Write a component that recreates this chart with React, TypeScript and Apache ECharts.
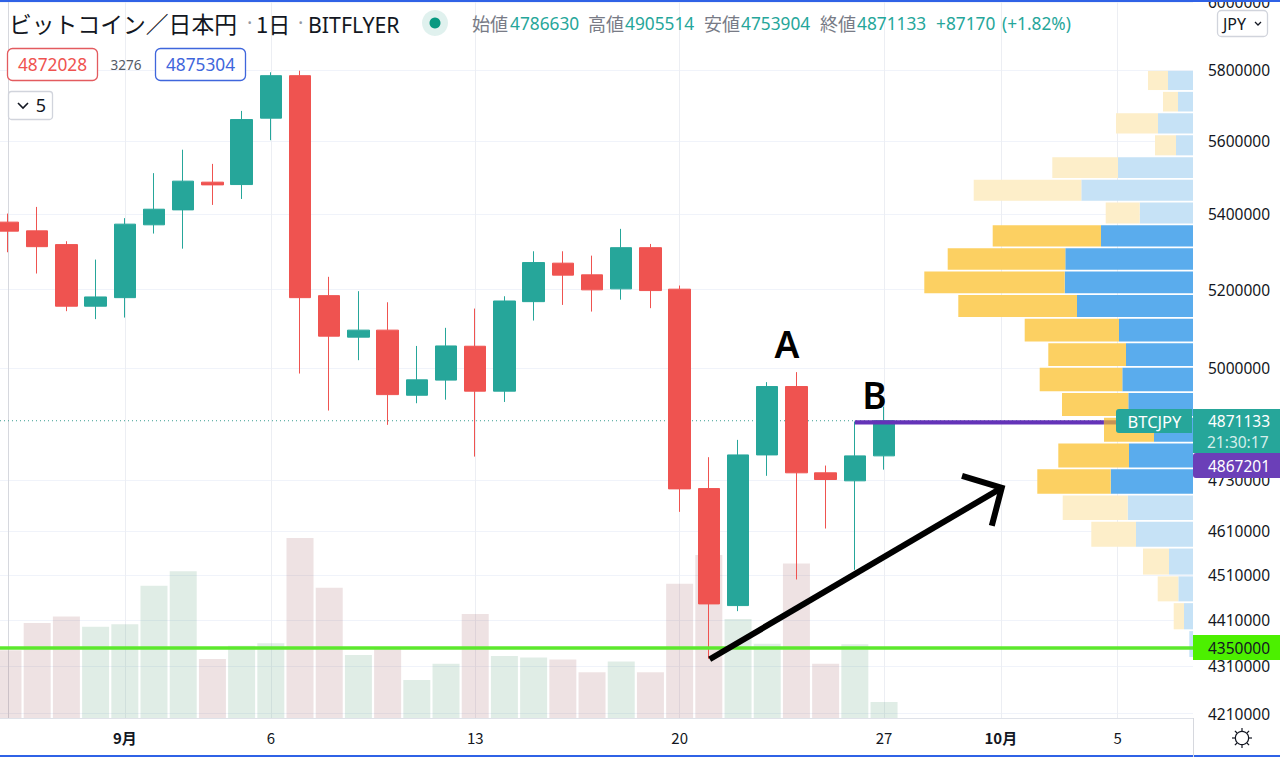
import React, { useEffect, useRef } from "react";
import * as echarts from "echarts";

// ---- data ----
const dates = ["8/28","8/29","8/30","8/31","9/1","9/2","9/3","9/4","9/5","9/6","9/7","9/8","9/9","9/10","9/11","9/12","9/13","9/14","9/15","9/16","9/17","9/18","9/19","9/20","9/21","9/22","9/23","9/24","9/25","9/26","9/27"];
const opens = [5377600,5354300,5317700,5157100,5179100,5370400,5410500,5485700,5479200,5663400,5784500,5184300,5078200,5096000,4933400,4970700,5055300,4943400,5168800,5268800,5238300,5201800,5309600,5201000,4709300,4442700,4788900,4954800,4746400,4727500,4786630];
const closes = [5353500,5312300,5157100,5180900,5372200,5412300,5488500,5478300,5659500,5784500,5179100,5080700,5096000,4934900,4971400,5056000,4943400,5170500,5270400,5237500,5199200,5309600,5197400,4708600,4446400,4788900,4954800,4746400,4730600,4786600,4871133];
const lows = [5297500,5241700,5144300,5124000,5128000,5347100,5307000,5423900,5440000,5601600,4987000,4895900,5020300,4861200,4913800,4922500,4784900,4916900,5120400,5160400,5143300,5173900,5152000,4655000,4326400,4430400,4739300,4500800,4616500,4522600,4753904];
const highs = [5400600,5418500,5326700,5278200,5388300,5510400,5575100,5535900,5683900,5794300,5798900,5233100,5195800,5167200,5056000,5101800,5151000,5182700,5300100,5300100,5288600,5359600,5319500,5210400,4783500,4824900,4965700,4990500,4763600,4869200,4905514];
const volumes = [13900,19500,20800,18700,19200,27100,30100,12100,14800,15300,36900,26700,12900,14300,7800,11100,21300,12700,12400,12000,9400,11600,9400,27500,33400,20300,15200,31700,11100,15100,3276];

const profileEdges = [5800900,5740700,5679700,5617900,5557000,5494800,5432700,5371400,5310200,5249500,5188000,5127300,5064900,5003700,4940900,4880600,4818400,4757000,4695100,4634300,4572800,4509800,4450100,4388500,4328500];
const profileBuy = [2500,1500,3500,1700,7500,11170,5330,9200,12770,12830,11600,7400,6700,7070,6470,3900,6400,8230,6530,5700,2400,1470,900,370];
const profileSell = [2000,1500,4200,2100,6570,10760,3400,10830,11760,14040,11870,9430,7770,8260,6630,5000,7070,7340,6500,4470,2600,2060,1030,0];
const profileFaded = [1,1,1,1,1,1,1,0,0,0,0,0,0,0,0,0,0,0,1,1,1,1,1,1];

const yTicks = [6000000,5800000,5600000,5400000,5200000,5000000,4730000,4610000,4510000,4410000,4310000,4210000];
const xTickIndex = [4,9,16,23,30,34,38];
const xTickLabels = ["9月","6","13","20","27","10月","5"];
const xTickBold = [1,0,0,0,0,1,0];

const lastPrice = 4871133;
const purplePrice = 4867201;
const greenPrice = 4350000;
const arrowShaft = [[24.03,4325500],[34.03,4711000]];
const arrowHead = [[32.67,4739300],[34.03,4711000],[33.69,4622800]];

// ---- styling ----
const UP = "#26a69a";
const DOWN = "#ef5350";
const GRID = "#f0f3fa";
const TEXT = "#131722";
const SANS = "'Noto Sans', sans-serif";
const JP = "'Noto Sans CJK JP', 'Noto Sans', sans-serif";

const txt = (text: string, x: number, y: number, fill: string, size: number, opt: any = {}) => ({
  type: "text",
  z: 50,
  silent: true,
  style: {
    text, x, y, fill,
    font: `${opt.weight || "normal"} ${size}px ${opt.family || SANS}`,
    textAlign: opt.align || "left",
    textVerticalAlign: "middle",
  },
});
const box = (x: number, y: number, width: number, height: number, fill: string, stroke: string | null, r: any = 0) => ({
  type: "rect",
  z: 40,
  silent: true,
  shape: { x, y, width, height, r },
  style: { fill, stroke: stroke || undefined, lineWidth: stroke ? 1.3 : 0 },
});
const seg = (x1: number, y1: number, x2: number, y2: number, stroke: string, lineWidth = 1) => ({
  type: "line",
  z: 45,
  silent: true,
  shape: { x1, y1, x2, y2 },
  style: { stroke, lineWidth },
});

const sunRays = [[0,-1],[0,1],[-1,0],[1,0],[-0.71,-0.71],[0.71,-0.71],[-0.71,0.71],[0.71,0.71]];

const graphics: any[] = [
  // frame
  box(0, 0, 1280, 2, "#2f62e6", null),
  box(0, 755, 1280, 2, "#2f62e6", null),
  // header
  txt("ビットコイン／日本円", 9, 23, TEXT, 22.8, { family: JP }),
  txt("·", 247, 22, "#9598a1", 20),
  txt("1日", 256, 23, TEXT, 22, { family: JP }),
  txt("·", 298, 22, "#9598a1", 20),
  txt("BITFLYER", 308, 24, TEXT, 21.3),
  { type: "circle", z: 40, silent: true, shape: { cx: 435, cy: 23, r: 13 }, style: { fill: "#e0f1ee" } },
  { type: "circle", z: 41, silent: true, shape: { cx: 435, cy: 23, r: 5.5 }, style: { fill: "#089981" } },
  txt("始値", 472, 23, "#787b86", 18, { family: JP }),
  txt("4786630", 510, 23, UP, 17.3),
  txt("高値", 588, 23, "#787b86", 18, { family: JP }),
  txt("4905514", 625, 23, UP, 17.3),
  txt("安値", 704, 23, "#787b86", 18, { family: JP }),
  txt("4753904", 741, 23, UP, 17.3),
  txt("終値", 820, 23, "#787b86", 18, { family: JP }),
  txt("4871133", 857, 23, UP, 17.3),
  txt("+87170", 936, 23, UP, 17.3),
  txt("(+1.82%)", 1002, 23, UP, 17.3),
  // quote boxes
  box(7.5, 48.5, 90, 32, "#ffffff", "#e35b5f", 5),
  txt("4872028", 52.5, 64.5, DOWN, 17.3, { align: "center" }),
  txt("3276", 126, 64.5, "#555a66", 13.5, { align: "center" }),
  box(155.5, 48.5, 90, 32, "#ffffff", "#3f66dc", 5),
  txt("4875304", 200.5, 64.5, "#3f66dc", 17.3, { align: "center" }),
  box(8.5, 91.5, 44, 28, "#ffffff", "#d1d4dc", 3),
  { type: "polyline", z: 45, silent: true, shape: { points: [[18, 103], [23, 108], [28, 103]] }, style: { stroke: TEXT, fill: "none", lineWidth: 1.6 } },
  txt("5", 41, 105, TEXT, 18, { align: "center" }),
  // currency button
  box(1217.5, 10.5, 50, 26, "#ffffff", "#d1d4dc", 4),
  txt("JPY", 1223, 23.5, TEXT, 16),
  { type: "polyline", z: 45, silent: true, shape: { points: [[1255, 22], [1258, 25], [1261, 22]] }, style: { stroke: TEXT, fill: "none", lineWidth: 1.3 } },
  // annotations
  txt("A", 787, 343, "#000000", 37, { align: "center", weight: 600 }),
  txt("B", 874.5, 394, "#000000", 37, { align: "center", weight: 600 }),
  // price labels on the axis
  box(1116, 409, 76, 24, UP, null, [3, 0, 0, 3]),
  txt("BTCJPY", 1154.5, 421, "#ffffff", 16.5, { align: "center" }),
  box(1193, 409, 87, 44, UP, null, 0),
  txt("4871133", 1208, 421, "#ffffff", 15.5),
  txt("21:30:17", 1207, 442, "#d4eeeb", 15.5),
  box(1193, 453, 87, 25, "#6b3fb8", null, [3, 0, 0, 3]),
  txt("4867201", 1208, 466, "#ffffff", 15.5),
  box(1193, 635, 87, 25, "#4cf000", null, 0),
  txt("4350000", 1208, 648, TEXT, 15.5),
  // theme icon
  { type: "circle", z: 45, silent: true, shape: { cx: 1242, cy: 738, r: 6.6 }, style: { fill: "none", stroke: TEXT, lineWidth: 1.2 } },
  ...sunRays.map(([dx, dy]) => seg(1242 + dx * 7, 738 + dy * 7, 1242 + dx * 10, 738 + dy * 10, TEXT, 1.2)),
  // bottom right axis separator
  seg(1193.5, 718, 1193.5, 757, "#d6d8de", 1),
];

const renderProfile = (_params: any, api: any) => {
  const top = api.coord([0, api.value(0)])[1] + 0.9;
  const bottom = api.coord([0, api.value(1)])[1] - 0.9;
  const right = api.coord([0, api.value(0)])[0];
  const split = api.coord([api.value(2), api.value(0)])[0];
  const left = api.coord([api.value(2) + api.value(3), api.value(0)])[0];
  const faded = api.value(4) === 1;
  return {
    type: "group",
    children: [
      { type: "rect", shape: { x: split, y: top, width: right - split, height: bottom - top }, style: { fill: faded ? "#c6e2f6" : "#5aaced" } },
      { type: "rect", shape: { x: left, y: top, width: split - left, height: bottom - top }, style: { fill: faded ? "#fdeec9" : "#fcd062" } },
    ],
  };
};

const hLine = (name: string, data: number[][], color: any, width: number, z: number, type: any = "solid", cap = "butt") => ({
  name,
  type: "line",
  xAxisIndex: 0,
  yAxisIndex: 0,
  data,
  showSymbol: false,
  symbol: "none",
  silent: true,
  z,
  clip: false,
  lineStyle: { color, width, type, cap, join: "miter" },
});

const option: any = {
  animation: false,
  backgroundColor: "#ffffff",
  tooltip: { show: false },
  grid: { left: 0, top: 0, right: 87, bottom: 39, containLabel: false, outerBoundsMode: "none" },
  xAxis: [
    {
      type: "value",
      min: -0.274,
      max: 40.58,
      axisLine: { show: true, lineStyle: { color: "#dfe2e9", width: 1 } },
      axisTick: { show: false, customValues: xTickIndex },
      splitLine: { show: true, lineStyle: { color: "#eceef3", width: 1 } },
      axisLabel: {
        show: true,
        customValues: xTickIndex,
        margin: 12,
        color: TEXT,
        fontSize: 15,
        fontFamily: JP,
        formatter: (v: number) => {
          const i = xTickIndex.indexOf(Math.round(v));
          return xTickBold[i] ? `{b|${xTickLabels[i]}}` : xTickLabels[i];
        },
        rich: { b: { fontWeight: "bold", fontSize: 15, fontFamily: JP, color: TEXT } },
      },
    },
    { type: "value", inverse: true, min: 0, max: 119300, show: false, splitLine: { show: false } },
  ],
  yAxis: [
    {
      type: "log",
      logBase: 10,
      position: "right",
      min: 4200800,
      max: 6006700,
      axisLine: { show: true, lineStyle: { color: "#d6d8de", width: 1 } },
      axisTick: { show: false, customValues: yTicks },
      splitLine: { show: true, lineStyle: { color: GRID, width: 1 } },
      minorTick: { show: false },
      minorSplitLine: { show: false },
      axisLabel: {
        show: true,
        customValues: yTicks,
        margin: 15,
        color: TEXT,
        fontSize: 15.5,
        fontFamily: SANS,
        showMinLabel: true,
        showMaxLabel: true,
        formatter: (v: number) => String(Math.round(v / 10000) * 10000),
      },
    },
    { type: "value", min: 0, max: 147200, show: false, splitLine: { show: false } },
  ],
  series: [
    hLine("last", [[-0.274, lastPrice], [40.58, lastPrice]], "#3a9d92", 1, 1, [1, 3]),
    {
      name: "volume",
      type: "bar",
      xAxisIndex: 0,
      yAxisIndex: 1,
      barWidth: 27,
      silent: true,
      z: 2,
      data: volumes.map((v, i) => ({
        value: [i, v],
        itemStyle: { color: closes[i] >= opens[i] ? "rgba(70,150,105,0.17)" : "rgba(150,75,80,0.16)" },
      })),
    },
    {
      name: "price",
      type: "candlestick",
      xAxisIndex: 0,
      yAxisIndex: 0,
      barWidth: 22,
      silent: true,
      z: 3,
      encode: { x: 0, y: [1, 2, 3, 4] },
      itemStyle: { color: UP, color0: DOWN, borderColor: UP, borderColor0: DOWN, borderWidth: 1 },
      data: dates.map((_d, i) => [i, opens[i], closes[i], lows[i], highs[i]]),
    },
    hLine("purple", [[29, purplePrice], [37.53, purplePrice]], "#6433b8", 4.2, 5),
    hLine("purpleUnder", [[37.53, purplePrice], [37.95, purplePrice]], "#c69255", 4.2, 7),
    {
      name: "profile",
      type: "custom",
      xAxisIndex: 1,
      yAxisIndex: 0,
      silent: true,
      z: 6,
      renderItem: renderProfile,
      encode: { x: [2, 3], y: [0, 1] },
      data: profileBuy.map((b, i) => [profileEdges[i], profileEdges[i + 1], b, profileSell[i], profileFaded[i]]),
    },
    hLine("support", [[-0.274, greenPrice], [40.58, greenPrice]], "#5ce82d", 3.5, 8),
    hLine("arrowShaft", arrowShaft, "#000000", 6, 9),
    hLine("arrowHead", arrowHead, "#000000", 6, 9),
  ],
  graphic: { elements: graphics },
};

export default function App() {
  const ref = useRef<HTMLDivElement>(null);
  useEffect(() => {
    if (!ref.current) return;
    const chart = echarts.init(ref.current, undefined, { renderer: "svg" });
    chart.setOption(option);
    return () => chart.dispose();
  }, []);
  return <div ref={ref} style={{ position: "absolute", left: 0, top: 0, width: 1280, height: 757 }} />;
}
